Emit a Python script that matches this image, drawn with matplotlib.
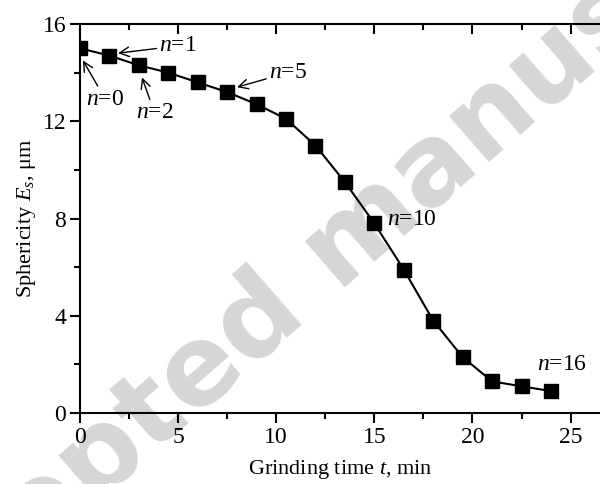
import matplotlib
matplotlib.use("Agg")
import matplotlib.pyplot as plt

plt.rcParams['font.family'] = 'Liberation Serif'
plt.rcParams['mathtext.fontset'] = 'custom'
plt.rcParams['mathtext.rm'] = 'Liberation Serif'
plt.rcParams['mathtext.it'] = 'Liberation Serif:italic'

# grinding time (min) and sphericity (um)
time_min = [0, 1.5, 3, 4.5, 6, 7.5, 9, 10.5, 12, 13.5, 15, 16.5, 18, 19.5, 21, 22.5, 24]
sphericity = [15.0, 14.7, 14.3, 14.0, 13.6, 13.2, 12.7, 12.1, 11.0, 9.5, 7.8, 5.9, 3.8, 2.3, 1.3, 1.1, 0.9]

x_ticks = [0, 5, 10, 15, 20, 25]
x_minor = [2.5, 7.5, 12.5, 17.5, 22.5]
y_ticks = [0, 4, 8, 12, 16]
y_minor = [2, 6, 10, 14]

fig = plt.figure(figsize=(6, 4.84), dpi=100)

# watermark behind the plot
fig.text(-0.215, -0.445, 'Accepted manuscript', fontsize=80, fontweight='bold',
         family='DejaVu Sans', color='#d6d6d6', rotation=41,
         ha='left', va='baseline', rotation_mode='anchor', zorder=-1)

ax = fig.add_axes([0.1333, 0.1467, 0.8667, 0.8037])
ax.patch.set_alpha(0)

# first marker sits on the left spine and is half clipped, as in the original
ax.plot(time_min, sphericity, color='k', lw=1.5, marker='s', ms=10,
        mfc='k', mec='k')

ax.set_xlim(0, 26.5)
ax.set_ylim(0, 16)
ax.set_xticks(x_ticks)
ax.set_yticks(y_ticks)
ax.set_xticks(x_minor, minor=True)
ax.set_yticks(y_minor, minor=True)

ax.spines['right'].set_visible(False)
for sp in ['left', 'bottom', 'top']:
    ax.spines[sp].set_linewidth(1.5)

ax.tick_params(which='both', direction='out', width=1.5, labelsize=17, pad=3,
               top=False, right=False)
ax.tick_params(which='major', length=7)
ax.tick_params(which='minor', length=4)

# top axis: inward ticks, no labels
top = ax.secondary_xaxis('top')
top.set_xticks(x_ticks)
top.set_xticks(x_minor, minor=True)
top.spines['top'].set_visible(False)
top.tick_params(which='both', direction='in', width=1.5, labeltop=False)
top.tick_params(which='major', length=7)
top.tick_params(which='minor', length=4)

ax.set_xlabel('Grinding time $\\it{t}$, min', fontsize=16, labelpad=7)
ax.set_ylabel('Sphericity $\\mathit{E_s}$, \u03bcm', fontsize=16, labelpad=3)

arrow = dict(arrowstyle='->', color='k', lw=1.0, shrinkA=0, shrinkB=0)
fs = 17
ax.annotate('$\\it{n}$=0', xy=(0.15, 14.5), xytext=(1.3, 12.9), fontsize=fs,
            ha='center', va='center', arrowprops=arrow)
ax.annotate('$\\it{n}$=1', xy=(1.94, 14.8), xytext=(5.0, 15.1), fontsize=fs,
            ha='center', va='center', arrowprops=arrow)
ax.annotate('$\\it{n}$=2', xy=(3.16, 13.8), xytext=(3.8, 12.35), fontsize=fs,
            ha='center', va='center', arrowprops=arrow)
ax.annotate('$\\it{n}$=5', xy=(8.0, 13.4), xytext=(10.6, 14.0), fontsize=fs,
            ha='center', va='center', arrowprops=arrow)
ax.text(15.65, 7.94, '$\\it{n}$=10', fontsize=fs, ha='left', va='center')
ax.text(23.3, 1.98, '$\\it{n}$=16', fontsize=fs, ha='left', va='center')

fig.savefig('out.png', dpi=100)
